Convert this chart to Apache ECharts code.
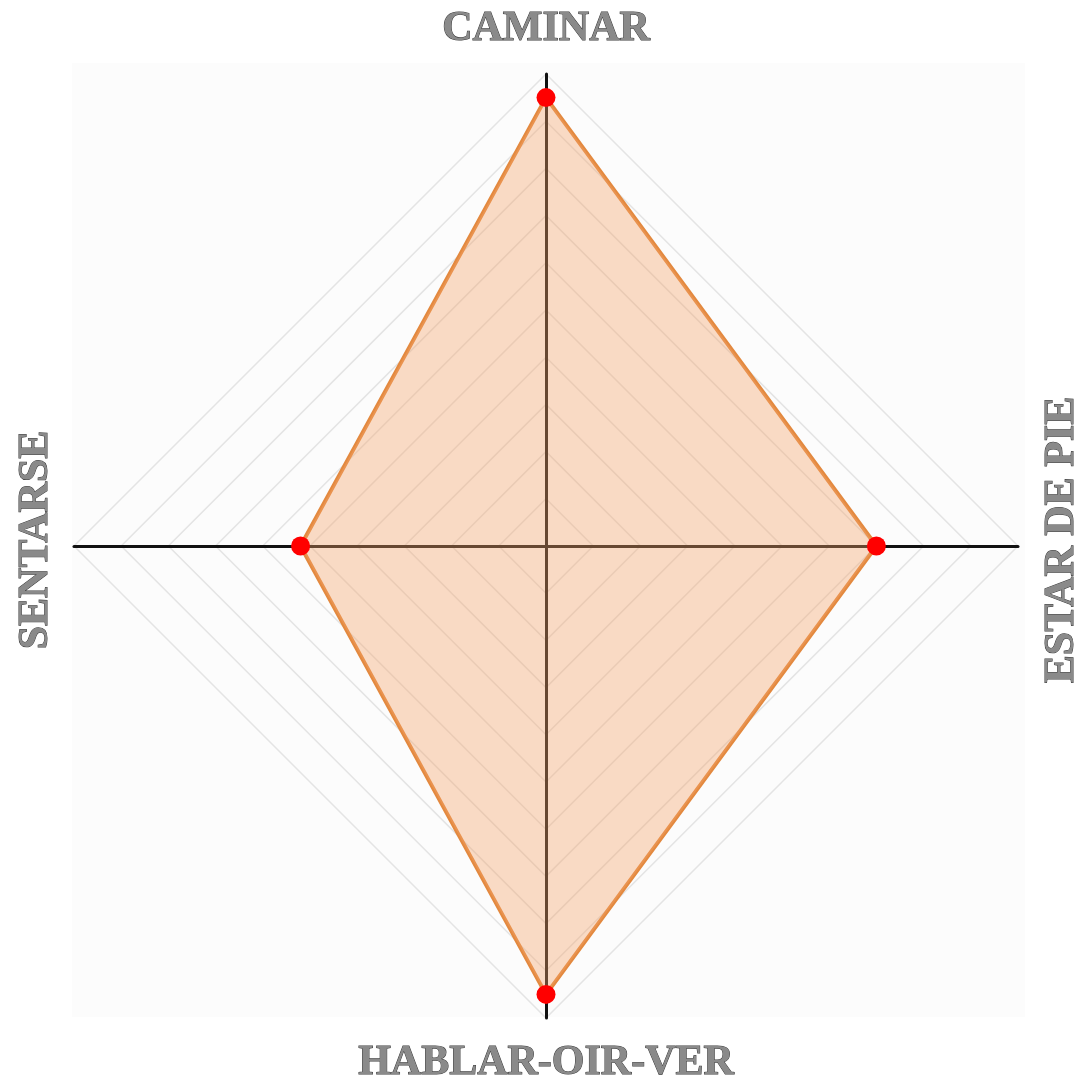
<!DOCTYPE html>
<html>
<head>
<meta charset="utf-8">
<script src="https://cdn.jsdelivr.net/npm/echarts@6/dist/echarts.min.js"></script>
<style>
  html, body { margin: 0; padding: 0; background: #ffffff; }
  #chart { width: 1087px; height: 1075px; }
</style>
</head>
<body>
<div id="chart"></div>
<script>
// Radar indicators, in ECharts order (top, then counter-clockwise)
const indicators = ['CAMINAR', 'SENTARSE', 'HABLAR-OIR-VER', 'ESTAR DE PIE'];
const indicatorMax = [100, 100, 100, 100];
const scores = [95, 52, 95, 70];

// Names drawn rotated (reading upward) beside the horizontal axes
const sideNames = ['SENTARSE', 'ESTAR DE PIE'];

const CX = 546, CY = 546, R = 472;

const nameStyle = {
  fontFamily: 'Liberation Serif',
  fontWeight: 'bold',
  fontSize: 42,
  color: '#8a8a8a',
  textBorderColor: '#3a3a3a',
  textBorderWidth: 1
};

const chart = echarts.init(document.getElementById('chart'));

const sideGraphics = [
  { name: 'SENTARSE', x: CX - R - 38 },
  { name: 'ESTAR DE PIE', x: CX + R + 44 }
].map(d => ({
  type: 'text',
  x: d.x,
  y: CY - 6,
  rotation: Math.PI / 2,
  z: 10,
  style: {
    text: d.name,
    fontFamily: nameStyle.fontFamily,
    fontWeight: 'bold',
    fontSize: nameStyle.fontSize,
    fill: nameStyle.color,
    stroke: nameStyle.textBorderColor,
    lineWidth: 1,
    align: 'center',
    verticalAlign: 'middle'
  }
}));

chart.setOption({
  backgroundColor: '#ffffff',
  animation: false,
  graphic: [
    {
      type: 'rect',
      z: -10,
      shape: { x: 72, y: 63, width: 953, height: 954 },
      style: { fill: '#fcfcfc' }
    }
  ].concat(sideGraphics),
  radar: {
    center: [CX, CY],
    radius: R,
    startAngle: 90,
    splitNumber: 10,
    shape: 'polygon',
    indicator: indicators.map((n, i) => ({ name: n, max: indicatorMax[i], min: 0 })),
    axisName: Object.assign({
      formatter: name => (sideNames.indexOf(name) >= 0 ? '' : name)
    }, nameStyle),
    nameGap: 24,
    axisLine: { lineStyle: { color: '#111111', width: 3 } },
    splitLine: { lineStyle: { color: '#e4e4e4', width: 1.5 } },
    splitArea: { show: false },
    axisTick: { show: false },
    axisLabel: { show: false }
  },
  series: [{
    type: 'radar',
    symbol: 'circle',
    symbolSize: 19,
    itemStyle: { color: '#ff0000' },
    lineStyle: { color: '#e3893f', width: 4 },
    areaStyle: { color: '#f5a469', opacity: 0.38 },
    data: [{ value: scores, name: 'Puntuación' }]
  }]
});
</script>
</body>
</html>
